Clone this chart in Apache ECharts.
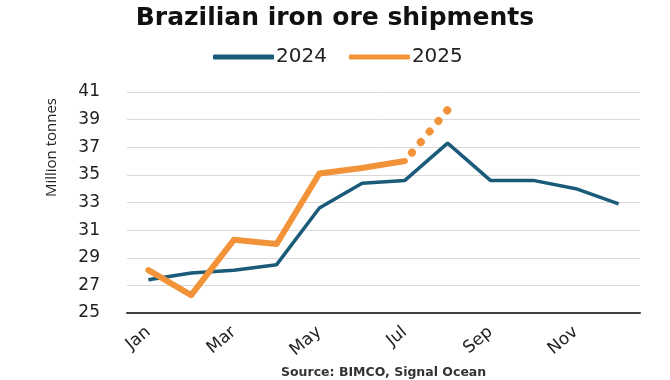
<!DOCTYPE html>
<html>
<head>
<meta charset="utf-8">
<script src="https://cdn.jsdelivr.net/npm/echarts@6/dist/echarts.min.js"></script>
<style>html,body{margin:0;padding:0;background:#fff}#c{width:670px;height:380px}</style>
</head>
<body>
<div id="c"></div>
<script>
var months = ['Jan','Feb','Mar','Apr','May','Jun','Jul','Aug','Sep','Oct','Nov','Dec'];
var s2024 = [27.4, 27.9, 28.1, 28.5, 32.6, 34.4, 34.6, 37.3, 34.6, 34.6, 34.0, 32.9];
var s2025 = [28.1, 26.3, 30.3, 30.0, 35.1, 35.5, 36.0];
var s2025Est = [null, null, null, null, null, null, 36.0, 39.7];
var yTicks = [25, 27, 29, 31, 33, 35, 37, 39, 41];

var teal = '#1b5b7a';
var orange = '#f29339';
var chart = echarts.init(document.getElementById('c'), null, {renderer: 'canvas'});
chart.setOption({
  backgroundColor: '#fff',
  animation: false,
  title: {
    text: 'Brazilian iron ore shipments',
    left: 'center', top: 1,
    textStyle: {fontFamily: 'DejaVu Sans', fontWeight: 'bold', fontSize: 25, color: '#111'}
  },
  legend: {
    data: [
      {name: '2024', icon: 'roundRect', itemStyle: {color: teal}},
      {name: '2025', icon: 'roundRect', itemStyle: {color: orange}}
    ],
    left: 208, top: 42,
    itemWidth: 61, itemHeight: 5, itemGap: 22,
    textStyle: {fontFamily: 'DejaVu Sans', fontSize: 20, color: '#222', padding: [0, 0, 0, -3]}
  },
  grid: {left: 127, right: 30, top: 92, bottom: 67},
  xAxis: {
    type: 'category',
    data: months,
    boundaryGap: true,
    axisLine: {lineStyle: {color: '#404040', width: 2}},
    axisTick: {show: false},
    axisLabel: {interval: 1, rotate: 40, margin: 17, fontFamily: 'DejaVu Sans', fontSize: 17, color: '#222'}
  },
  yAxis: {
    type: 'value',
    min: yTicks[0], max: yTicks[yTicks.length - 1], interval: 2,
    axisLine: {show: false},
    axisTick: {show: false},
    splitLine: {lineStyle: {color: '#d9d9d9', width: 1}},
    axisLabel: {margin: 27, fontFamily: 'DejaVu Sans', fontSize: 17, color: '#222'}
  },
  graphic: [
    {type: 'text', left: 44, top: 98, rotation: Math.PI / 2,
     style: {text: 'Million tonnes', font: '15px "Open Sans"', fill: '#222'}},
    {type: 'text', left: 281, top: 366,
     style: {text: 'Source: BIMCO, Signal Ocean', font: 'bold 12.5px "DejaVu Sans"', fill: '#333'}}
  ],
  series: [
    {name: '2024', type: 'line', data: s2024, symbol: 'none', z: 2,
     lineStyle: {color: teal, width: 3.5}, itemStyle: {color: teal}},
    {name: '2025', type: 'line', data: s2025, symbol: 'none', z: 3,
     lineStyle: {color: orange, width: 6, cap: 'round', join: 'round'}, itemStyle: {color: orange}},
    {name: '2025 est', type: 'line', data: s2025Est, symbol: 'none', z: 3,
     lineStyle: {color: orange, width: 8, cap: 'round', type: [0.1, 13.65], dashOffset: 2.75}, itemStyle: {color: orange}}
  ]
});
</script>
</body>
</html>
